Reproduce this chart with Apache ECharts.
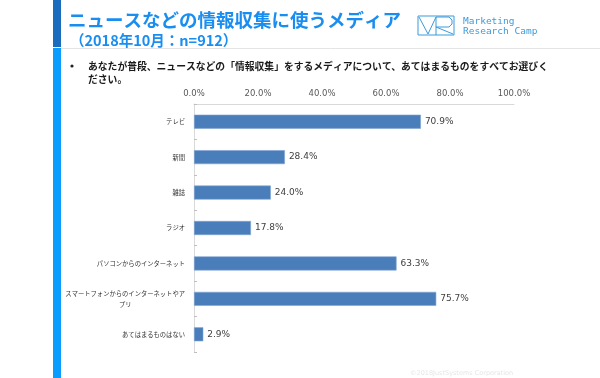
<!DOCTYPE html>
<html><head><meta charset="utf-8">
<script src="https://cdn.jsdelivr.net/npm/echarts@6/dist/echarts.min.js"></script>
<style>html,body{margin:0;padding:0;background:#fff}#c{width:600px;height:378px}</style>
</head><body><div id="c"></div>
<script>
const categories = ['テレビ','新聞','雑誌','ラジオ','パソコンからのインターネット','スマートフォンからのインターネットやアプリ','あてはまるものはない'];
const values = [70.9, 28.4, 24.0, 17.8, 63.3, 75.7, 2.9];
const xTicks = [0, 20, 40, 60, 80, 100];
const titleText = 'ニュースなどの情報収集に使うメディア';
const subtitleText = '（2018年10月：n=912）';
const questionLines = ['あなたが普段、ニュースなどの「情報収集」をするメディアについて、あてはまるものをすべてお選びく', 'ださい。'];
const copyrightText = '©2018JustSystems Corporation';

const jp = '"Noto Sans CJK JP", sans-serif';
const chart = echarts.init(document.getElementById('c'), null, {renderer: 'canvas'});
chart.setOption({
  animation: false,
  backgroundColor: '#fff',
  grid: {left: 194, right: 86, top: 104, bottom: 26},
  xAxis: {
    type: 'value', position: 'top', min: xTicks[0], max: xTicks[xTicks.length-1], interval: 20,
    axisLine: {show: true, lineStyle: {color: '#d9d9d9', width: 1}},
    axisTick: {show: false},
    splitLine: {show: false},
    axisLabel: {margin: 6, color: '#595959', fontSize: 8.5, fontFamily: 'DejaVu Sans', formatter: v => v.toFixed(1) + '%'}
  },
  yAxis: {
    type: 'category', inverse: true, data: categories,
    axisLine: {show: true, lineStyle: {color: '#d9d9d9'}},
    axisTick: {show: true, inside: true, length: 3, lineStyle: {color: '#bfbfbf'}},
    axisLabel: {
      margin: 9, color: '#333', fontSize: 6.3, fontFamily: jp, lineHeight: 11,
      formatter: v => {
        if (v.length > 19) return '{c|' + v.slice(0, 19) + '}\n{c|' + v.slice(19) + '}';
        return v;
      },
      rich: {c: {align: 'center', fontSize: 6.3, fontFamily: jp, color: '#333', lineHeight: 11}}
    }
  },
  series: [{
    type: 'bar', data: values, barWidth: 14,
    itemStyle: {color: '#4a7ebb', borderColor: '#7ea3d3', borderWidth: 0.6},
    label: {show: true, position: 'right', distance: 4, color: '#404040', fontSize: 9, fontFamily: 'DejaVu Sans',
      formatter: p => p.value.toFixed(1) + '%'}
  }],
  graphic: [
    {type: 'rect', shape: {x: 53, y: 0, width: 8, height: 47}, style: {fill: '#1a6cbf'}},
    {type: 'rect', shape: {x: 53, y: 48, width: 8, height: 330}, style: {fill: '#0a9cff'}},
    {type: 'line', shape: {x1: 61, y1: 48.5, x2: 600, y2: 48.5}, style: {stroke: '#e4e4e4', lineWidth: 1}},
    {type: 'text', x: 68, y: 20, style: {text: titleText, fill: '#1a8ef0', font: 'bold 18.5px ' + jp, textVerticalAlign: 'middle'}},
    {type: 'text', x: 70, y: 40, style: {text: subtitleText, fill: '#1a8ef0', font: 'bold 14.5px ' + jp, textVerticalAlign: 'middle'}},
    {type: 'rect', shape: {x: 418, y: 16, width: 36, height: 19}, style: {fill: 'none', stroke: '#3b9bdc', lineWidth: 1}},
    {type: 'polyline', shape: {points: [[419, 17], [428, 34], [436, 17]]}, style: {fill: 'none', stroke: '#3b9bdc', lineWidth: 1}},
    {type: 'polyline', shape: {points: [[436, 35], [436, 17], [449, 17], [452, 20], [452, 24], [449, 27], [436, 27], [453, 34]]}, style: {fill: 'none', stroke: '#3b9bdc', lineWidth: 1}},
    {type: 'text', x: 463, y: 22, style: {text: 'Marketing', fill: '#3b9bdc', font: '9.5px "DejaVu Sans Mono"', textVerticalAlign: 'middle'}},
    {type: 'text', x: 463, y: 32, style: {text: 'Research Camp', fill: '#3b9bdc', font: '9.5px "DejaVu Sans Mono"', textVerticalAlign: 'middle'}},
    {type: 'circle', shape: {cx: 72, cy: 66, r: 1.6}, style: {fill: '#222'}},
    {type: 'text', x: 88, y: 66, style: {text: questionLines[0], fill: '#1a1a1a', font: 'bold 9.8px ' + jp, textVerticalAlign: 'middle'}},
    {type: 'text', x: 88, y: 79, style: {text: questionLines[1], fill: '#1a1a1a', font: 'bold 9.8px ' + jp, textVerticalAlign: 'middle'}},
    {type: 'text', x: 410, y: 373, style: {text: copyrightText, fill: '#e6e6e6', font: '6.5px "DejaVu Sans"', textVerticalAlign: 'middle'}}
  ]
});
</script></body></html>
